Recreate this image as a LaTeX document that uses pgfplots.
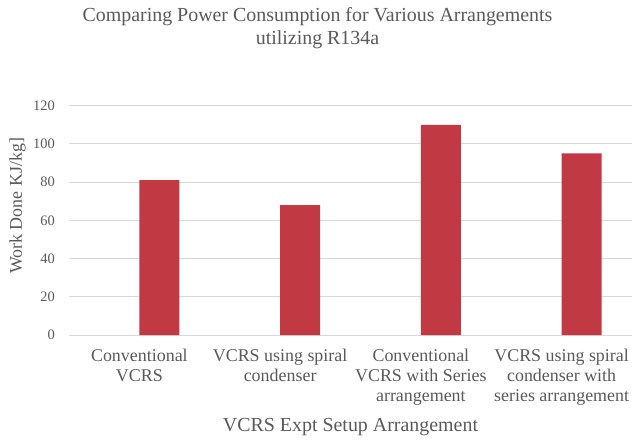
\documentclass[border=0pt]{standalone}
\usepackage{fontspec}
\setmainfont{Liberation Serif}
\usepackage{pgfplots}
\pgfplotsset{compat=1.18}
\definecolor{barred}{RGB}{192,57,67}
\definecolor{txt}{RGB}{89,89,89}
\definecolor{gridc}{RGB}{217,217,217}
\begin{document}
\begin{tikzpicture}
\path[use as bounding box] (-69bp,-106bp) rectangle (571bp,335bp);
\begin{axis}[
  at={(0,0)}, anchor=south west,
  scale only axis, width=563bp, height=229.3bp,
  xmin=-0.5, xmax=3.5, ymin=0, ymax=120,
  ytick={0,20,...,120},
  xtick={0,1,2,3},
  xticklabels={{Conventional\\VCRS},{VCRS using spiral\\condenser},{Conventional\\VCRS with Series\\arrangement},{VCRS using spiral\\condenser with\\series arrangement}},
  ymajorgrids, grid style={draw=gridc, line width=0.9bp},
  axis line style={draw=none},
  major tick length=0pt, tick style={draw=none},
  /pgf/number format/assume math mode=true,
  xticklabel style={anchor=north, inner sep=0pt, yshift=-14bp, align=center, font=\fontsize{18}{20}\selectfont, text=txt},
  yticklabel style={anchor=east, inner sep=0pt, xshift=-14bp, font=\fontsize{14.5}{16}\selectfont, text=txt},
  title={Comparing Power Consumption for Various Arrangements\\utilizing R134a},
  title style={at={(axis description cs:0.4414,1.405)}, anchor=north, inner sep=0pt, align=center, font=\fontsize{20}{23.5}\selectfont, text=txt},
  xlabel={VCRS Expt Setup Arrangement},
  xlabel style={at={(axis description cs:0.5,-0.4187)}, anchor=base, font=\fontsize{20}{24}\selectfont, text=txt},
  ylabel={Work Done KJ/kg]},
  ylabel style={at={(axis description cs:-0.0915,0.563)}, anchor=center, font=\fontsize{18}{20}\selectfont, text=txt},
]
\addplot[ybar, bar width=40bp, bar shift=20bp, fill=barred, draw=none] coordinates {(0,81) (1,68) (2,110) (3,95)};
\end{axis}
\end{tikzpicture}
\end{document}
